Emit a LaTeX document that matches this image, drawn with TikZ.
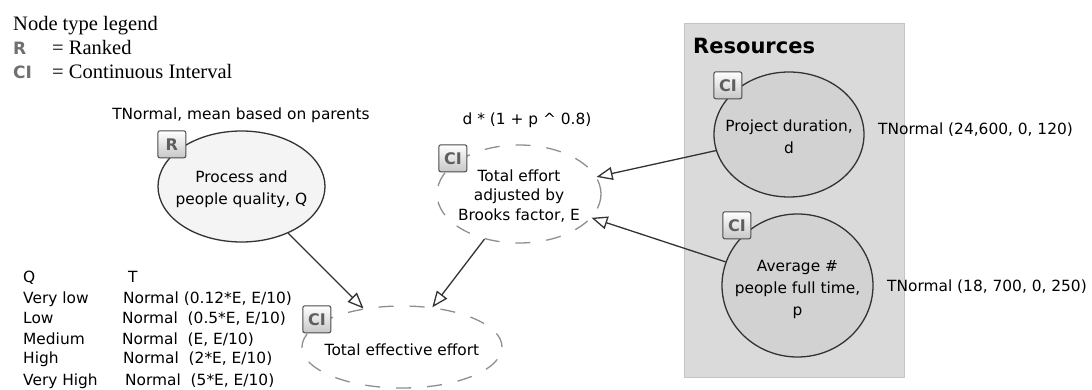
\documentclass[tikz,border=0pt]{standalone}
\usepackage{fontspec}
\setmainfont{Liberation Serif}
\newfontfamily\dvsans{DejaVu Sans}
\usetikzlibrary{arrows.meta,shapes.geometric,shadings}

\definecolor{edgecol}{HTML}{333333}
\definecolor{dashcol}{HTML}{8F8F8F}
\definecolor{boxfill}{HTML}{DADADA}
\definecolor{boxline}{HTML}{C4C4C4}
\definecolor{resfill}{HTML}{D2D2D2}
\definecolor{procfill}{HTML}{F4F4F4}
\definecolor{tagtext}{HTML}{5E5E5E}
\definecolor{tagline}{HTML}{4A4A4A}
\definecolor{legtag}{HTML}{707070}

\tikzset{
  lbl/.style={font=\dvsans\fontsize{15.4}{18}\selectfont, inner sep=0},
  serif/.style={font=\fontsize{20.5}{24}\selectfont, inner sep=0, anchor=base west},
  legtagstyle/.style={font=\dvsans\bfseries\fontsize{17}{20}\selectfont, text=legtag, inner sep=0, anchor=base west},
  nodetext/.style={font=\dvsans\fontsize{15.4}{22}\selectfont, align=center, inner sep=0},
  solidnode/.style={ellipse, draw=edgecol, line width=1.3pt, inner sep=0},
  dashnode/.style={ellipse, draw=dashcol, line width=1.3pt, dash pattern=on 15pt off 16pt, inner sep=0},
  tag/.style={draw=tagline, line width=1pt, rounded corners=2pt, top color=white, bottom color=black!22,
    minimum width=28pt, minimum height=27pt, inner sep=0, anchor=north west,
    font=\dvsans\bfseries\fontsize{16}{16}\selectfont, text=tagtext},
  link/.style={draw=edgecol, line width=1.3pt, -{Triangle[open, length=16pt, width=13pt]}},
}

\begin{document}
\begin{tikzpicture}[x=1pt, y=-1pt]
  \path[fill=white, use as bounding box] (0,0) rectangle (1092,390);

  % legend
  \node[serif] (legtitle) at (13,31) {Node type legend};
  \node[legtagstyle] (legR) at (13,55) {R};
  \node[serif] (legRtxt) at (52,55) {= Ranked};
  \node[legtagstyle] (legCI) at (13,79) {CI};
  \node[serif] (legCItxt) at (52,79) {= Continuous Interval};

  % resources group
  \node[draw=boxline, fill=boxfill, line width=1pt, minimum width=220pt, minimum height=353pt, inner sep=0] (res) at (794,200.5) {};
  \node[font=\dvsans\bfseries\fontsize{21}{24}\selectfont, anchor=base west, inner sep=0] (restitle) at (693,54) {Resources};

  % nodes
  \node[solidnode, fill=procfill, minimum width=167pt, minimum height=111pt] (proc) at (241.5,186.5) {};
  \node[nodetext] (proctext) at (241.5,189) {Process and\\people quality, Q};

  \node[dashnode, minimum width=164pt, minimum height=98pt] (effE) at (519,194) {};
  \node[nodetext, font=\dvsans\fontsize{15.4}{19.5}\selectfont] (effEtext) at (519,196) {Total effort\\adjusted by\\Brooks factor, E};

  \node[dashnode, minimum width=200pt, minimum height=82pt] (tee) at (402,347) {};
  \node[nodetext] (teetext) at (402,350) {Total effective effort};

  \node[solidnode, fill=resfill, minimum width=150pt, minimum height=125pt] (dur) at (789,134.5) {};
  \node[nodetext] (durtext) at (789,137) {Project duration,\\d};

  \node[solidnode, fill=resfill, minimum width=151pt, minimum height=143pt] (ppl) at (797.5,285.5) {};
  \node[nodetext] (ppltext) at (797.5,289) {Average \#\\people full time,\\p};

  % type badges
  \node[tag] (tagproc) at (proc.west |- proc.north) {R};
  \node[tag] (tageffE) at ([xshift=2pt]effE.west |- effE.north) {CI};
  \node[tag] (tagtee) at ([xshift=1pt]tee.west |- tee.north) {CI};
  \node[tag] (tagdur) at (dur.west |- dur.north) {CI};
  \node[tag] (tagppl) at ([xshift=1pt,yshift=2pt]ppl.west |- ppl.north) {CI};

  % connectors
  \draw[link] (proc) -- (tee);
  \draw[link] (effE) -- (tee);
  \draw[link] (dur) -- (effE);
  \draw[link] (ppl) -- (effE);

  % node annotations
  \node[lbl, anchor=base] (procnote) at (241,120) {TNormal, mean based on parents};
  \node[lbl, anchor=base] (effEnote) at (527,125) {d * (1 + p \^{} 0.8)};
  \node[lbl, anchor=base west] (durnote) at (878,135) {TNormal (24,600, 0, 120)};
  \node[lbl, anchor=base west] (pplnote) at (887,291) {TNormal (18, 700, 0, 250)};

  % table of T given Q
  \node[lbl, anchor=base west] (hq) at (23,282) {Q};
  \node[lbl, anchor=base west] (ht) at (128,282) {T};
  \node[lbl, anchor=base west] (q1) at (23,303) {Very low};
  \node[lbl, anchor=base west] (t1) at (123,303) {Normal (0.12*E, E/10)};
  \node[lbl, anchor=base west] (q2) at (23,323) {Low};
  \node[lbl, anchor=base west] (t2) at (122,323) {Normal\ \ (0.5*E, E/10)};
  \node[lbl, anchor=base west] (q3) at (23,344) {Medium};
  \node[lbl, anchor=base west] (t3) at (122,344) {Normal\ \ (E, E/10)};
  \node[lbl, anchor=base west] (q4) at (23,363) {High};
  \node[lbl, anchor=base west] (t4) at (123,363) {Normal\ \ (2*E, E/10)};
  \node[lbl, anchor=base west] (q5) at (23,385) {Very High};
  \node[lbl, anchor=base west] (t5) at (125,385) {Normal\ \ (5*E, E/10)};
\end{tikzpicture}
\end{document}
